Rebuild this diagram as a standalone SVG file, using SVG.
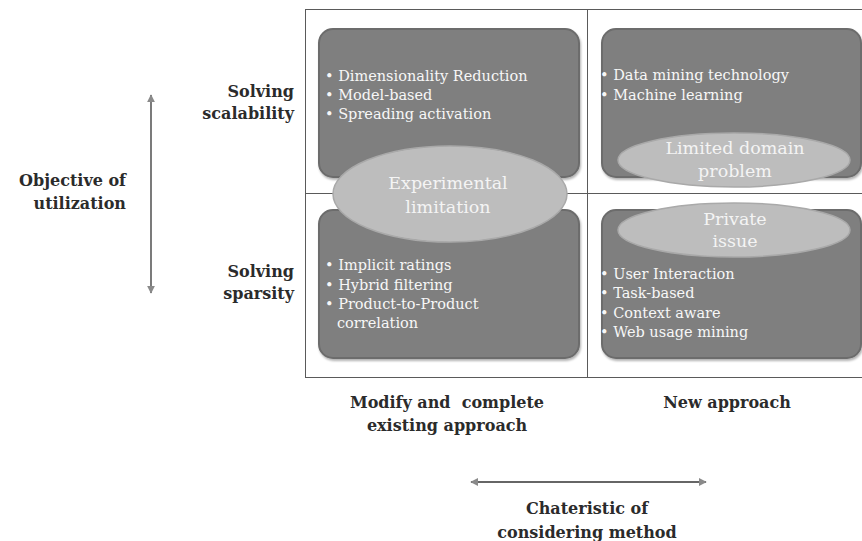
<svg xmlns="http://www.w3.org/2000/svg" width="862" height="541" viewBox="0 0 862 541">
  <style>
    .grid { fill: none; stroke: #5a5a5a; stroke-width: 1; }
    .box { fill: #7f7f7f; stroke: #6c6c6c; stroke-width: 2; }
    .oval { fill: #bdbdbd; stroke: #a9a9a9; stroke-width: 1.5; }
    .item { font-family: "DejaVu Serif", "Liberation Serif", serif; font-size: 14.5px; fill: #f7f7f7; }
    .ovtxt { font-family: "DejaVu Serif", "Liberation Serif", serif; font-size: 17.5px; fill: #f4f4f4; text-anchor: middle; }
    .lbl { font-family: "DejaVu Serif", "Liberation Serif", serif; font-size: 16px; font-weight: bold; fill: #2b2b2b; white-space: pre; }
    .axis { stroke: #333; stroke-width: 1.3; fill: none; }
  </style>
  <defs>
    <filter id="shade" x="-5%" y="-5%" width="110%" height="115%">
      <feDropShadow dx="1" dy="2" stdDeviation="1.2" flood-color="#000" flood-opacity="0.3"/>
    </filter>
    <marker id="head" viewBox="0 0 10 10" refX="9" refY="5" markerWidth="8" markerHeight="8" markerUnits="userSpaceOnUse" orient="auto-start-reverse">
      <path d="M0,0 L10,5 L0,10 Z" fill="#8a8a8a"/>
    </marker>
  </defs>

  <!-- quadrant grid -->
  <g id="grid">
    <rect class="grid" x="305.5" y="9.5" width="560" height="368"/>
    <line class="grid" x1="587.5" y1="9.5" x2="587.5" y2="377.5"/>
    <line class="grid" x1="305.5" y1="193.5" x2="862" y2="193.5"/>
  </g>

  <!-- axis arrows -->
  <g id="connectors">
    <line class="axis" x1="151" y1="95" x2="151" y2="293" marker-start="url(#head)" marker-end="url(#head)"/>
    <line class="axis" x1="471" y1="482" x2="706" y2="482" marker-start="url(#head)" marker-end="url(#head)"/>
  </g>

  <!-- top-left quadrant -->
  <g id="scalability-modify">
    <rect class="box" filter="url(#shade)" x="319" y="29" width="260" height="148" rx="14"/>
    <text class="item" x="325" y="81">• Dimensionality Reduction</text>
    <text class="item" x="325" y="100">• Model-based</text>
    <text class="item" x="325" y="119">• Spreading activation</text>
  </g>

  <!-- top-right quadrant -->
  <g id="scalability-new">
    <rect class="box" filter="url(#shade)" x="602" y="29" width="259" height="148" rx="14"/>
    <text class="item" x="600" y="80">• Data mining technology</text>
    <text class="item" x="600" y="100">• Machine learning</text>
  </g>

  <!-- bottom-left quadrant -->
  <g id="sparsity-modify">
    <rect class="box" filter="url(#shade)" x="319" y="210" width="260" height="148" rx="14"/>
    <text class="item" x="325" y="270">• Implicit ratings</text>
    <text class="item" x="325" y="290">• Hybrid filtering</text>
    <text class="item" x="325" y="309">• Product-to-Product</text>
    <text class="item" x="337" y="328">correlation</text>
  </g>

  <!-- bottom-right quadrant -->
  <g id="sparsity-new">
    <rect class="box" filter="url(#shade)" x="602" y="210" width="259" height="148" rx="14"/>
    <text class="item" x="600" y="279">• User Interaction</text>
    <text class="item" x="600" y="298">• Task-based</text>
    <text class="item" x="600" y="318">• Context aware</text>
    <text class="item" x="600" y="337">• Web usage mining</text>
  </g>

  <!-- limitation ovals -->
  <g id="experimental-limitation">
    <ellipse class="oval" cx="450" cy="194" rx="117" ry="48"/>
    <text class="ovtxt" x="448" y="189">Experimental</text>
    <text class="ovtxt" x="448" y="213">limitation</text>
  </g>
  <g id="limited-domain">
    <ellipse class="oval" cx="734" cy="160" rx="116" ry="27"/>
    <text class="ovtxt" x="735" y="154">Limited domain</text>
    <text class="ovtxt" x="735" y="177">problem</text>
  </g>
  <g id="private-issue">
    <ellipse class="oval" cx="734" cy="230" rx="116" ry="27"/>
    <text class="ovtxt" x="735" y="225">Private</text>
    <text class="ovtxt" x="735" y="247">issue</text>
  </g>

  <!-- axis labels -->
  <g id="row-labels">
    <text class="lbl" text-anchor="end" x="294" y="97">Solving</text>
    <text class="lbl" text-anchor="end" x="294" y="119">scalability</text>
    <text class="lbl" text-anchor="end" x="294" y="277">Solving</text>
    <text class="lbl" text-anchor="end" x="294" y="299">sparsity</text>
    <text class="lbl" text-anchor="end" x="126" y="186">Objective of</text>
    <text class="lbl" text-anchor="end" x="126" y="209">utilization</text>
  </g>
  <g id="column-labels">
    <text class="lbl" text-anchor="middle" x="447" y="408" xml:space="preserve">Modify and  complete</text>
    <text class="lbl" text-anchor="middle" x="447" y="431">existing approach</text>
    <text class="lbl" text-anchor="middle" x="727" y="408">New approach</text>
    <text class="lbl" text-anchor="middle" x="587" y="514">Chateristic of</text>
    <text class="lbl" text-anchor="middle" x="587" y="538">considering method</text>
  </g>
</svg>
